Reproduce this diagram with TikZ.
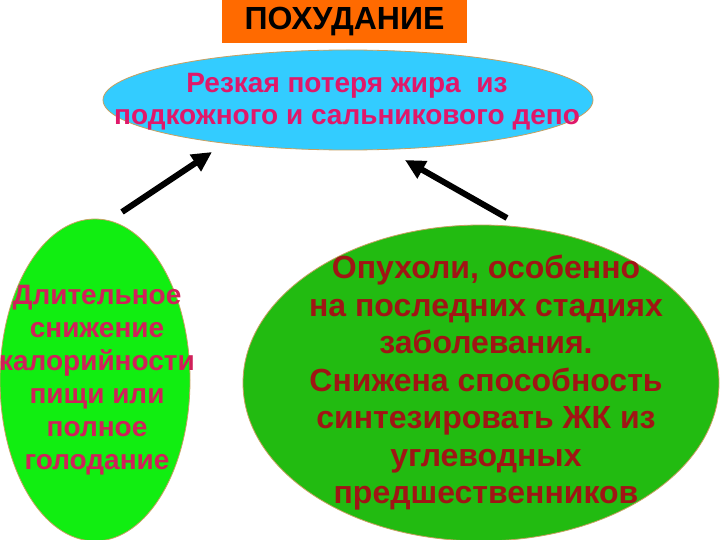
\documentclass[tikz,border=0pt]{standalone}
\usepackage{fontspec}
\setmainfont{Liberation Sans}
\usetikzlibrary{shapes.geometric,arrows.meta}
\definecolor{titleorange}{HTML}{FF6A00}
\definecolor{skyblue}{HTML}{33CCFF}
\definecolor{lightgreen}{HTML}{11EE11}
\definecolor{darkgreen}{HTML}{22BB11}
\definecolor{pinktext}{HTML}{E0186A}
\definecolor{crimsontext}{HTML}{D0205A}
\definecolor{darkredtext}{HTML}{A01515}
\definecolor{edgetan}{HTML}{C8A060}
\begin{document}
\begin{tikzpicture}[x=1pt,y=-1pt,
  blob/.style={ellipse,draw=edgetan,line width=0.8pt,inner sep=0pt},
  blobtext/.style={align=center,inner sep=0pt},
  bigarrow/.style={line width=6pt,-{Triangle[length=20pt,width=19pt]}}]
\useasboundingbox (0,0) rectangle (720,540);
\fill[white] (0,0) rectangle (720,540);
% title
\node[fill=titleorange,minimum width=245pt,minimum height=43pt,inner sep=0pt,
  font={\fontsize{32}{36}\selectfont\bfseries}] (title) at (344.5,21.5) {ПОХУДАНИЕ};
% top ellipse
\node[blob,fill=skyblue,minimum width=490pt,minimum height=100pt] (top) at (348,100) {};
\node[blobtext,text=pinktext,font={\fontsize{28}{32}\selectfont\bfseries}] (toptext) at (347,102)
  {Резкая потеря жира\ \ из\\подкожного и сальникового депо};
% left ellipse
\node[blob,fill=lightgreen,minimum width=190pt,minimum height=322pt] (left) at (95,380) {};
\node[blobtext,text=crimsontext,font={\fontsize{28}{33}\selectfont\bfseries}] (lefttext) at (97,380)
  {Длительное\\снижение\\калорийности\\пищи или\\полное\\голодание};
% right ellipse
\node[blob,fill=darkgreen,minimum width=476pt,minimum height=316pt] (right) at (481,383) {};
\node[blobtext,text=darkredtext,font={\fontsize{32}{37.5}\selectfont\bfseries}] (righttext) at (486,383)
  {Опухоли, особенно\\на последних стадиях\\заболевания.\\ Снижена способность\\синтезировать ЖК из\\углеводных\\предшественников};
% arrows
\coordinate (la) at (122,212);
\coordinate (lb) at (212,152);
\coordinate (ra) at (507,218);
\coordinate (rb) at (405,160);
\draw[bigarrow] (la) -- (lb);
\draw[bigarrow] (ra) -- (rb);
\end{tikzpicture}
\end{document}
